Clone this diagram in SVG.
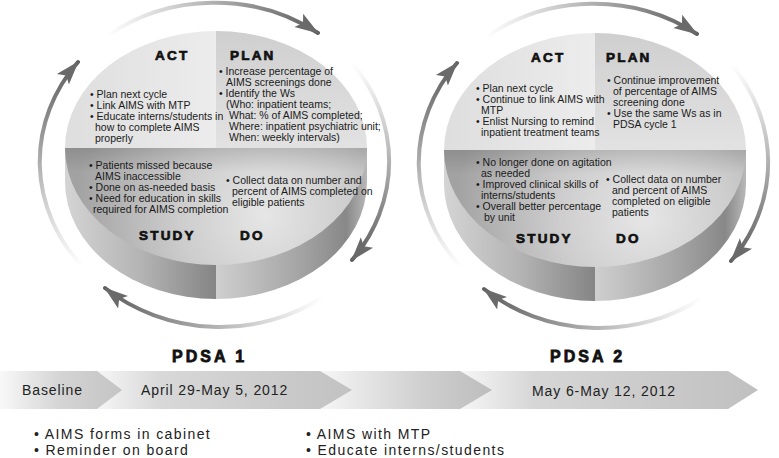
<svg xmlns="http://www.w3.org/2000/svg" width="779" height="458" viewBox="0 0 779 458">
<style>
.t{font-family:"Liberation Sans Narrow","Liberation Sans",Arial,sans-serif;font-size:10.5px;fill:#1a1a1a}
.h{font-family:"Liberation Sans",Arial,sans-serif;font-weight:bold;font-size:13.5px;fill:#111;stroke:#111;stroke-width:0.7;letter-spacing:2.2px}
.p{font-family:"Liberation Sans",Arial,sans-serif;font-weight:bold;font-size:16px;fill:#111;stroke:#111;stroke-width:0.8;letter-spacing:3px}
.tl{font-family:"Liberation Sans",Arial,sans-serif;font-size:14px;fill:#222;letter-spacing:0.9px}
.b{font-family:"Liberation Sans",Arial,sans-serif;font-size:14px;fill:#222;letter-spacing:1.4px}
.arc{fill:none;stroke-width:4;stroke-linecap:round}
</style>
<defs>
<linearGradient id="gTL" gradientUnits="userSpaceOnUse" x1="65" y1="0" x2="216" y2="0"><stop offset="0" stop-color="#dedede"/><stop offset="1" stop-color="#ececec"/></linearGradient>
<linearGradient id="gTR" gradientUnits="userSpaceOnUse" x1="0" y1="31" x2="0" y2="148"><stop offset="0" stop-color="#cfcfcf"/><stop offset="1" stop-color="#e2e2e2"/></linearGradient>
<radialGradient id="gB" gradientUnits="userSpaceOnUse" cx="265" cy="215" r="190"><stop offset="0" stop-color="#e6e6e6"/><stop offset="0.45" stop-color="#cdcdcd"/><stop offset="1" stop-color="#a2a2a2"/></radialGradient>
<linearGradient id="gBs" gradientUnits="userSpaceOnUse" x1="0" y1="148" x2="0" y2="172"><stop offset="0" stop-color="#000" stop-opacity="0.12"/><stop offset="1" stop-color="#000" stop-opacity="0"/></linearGradient>
<linearGradient id="gS" gradientUnits="userSpaceOnUse" x1="65" y1="0" x2="367" y2="0"><stop offset="0" stop-color="#d4d4d4"/><stop offset="0.25" stop-color="#b4b4b4"/><stop offset="0.499" stop-color="#858585"/><stop offset="0.5" stop-color="#cfcfcf"/><stop offset="0.78" stop-color="#a4a4a4"/><stop offset="0.93" stop-color="#888"/><stop offset="1" stop-color="#b8b8b8"/></linearGradient>
<linearGradient id="aT" gradientUnits="userSpaceOnUse" x1="107" y1="36" x2="318" y2="33"><stop offset="0" stop-color="#fff"/><stop offset="0.3" stop-color="#d2d2d2"/><stop offset="1" stop-color="#5e5e5e"/></linearGradient>
<linearGradient id="aR" gradientUnits="userSpaceOnUse" x1="352" y1="63" x2="352" y2="260"><stop offset="0" stop-color="#fff"/><stop offset="0.3" stop-color="#d2d2d2"/><stop offset="1" stop-color="#5e5e5e"/></linearGradient>
<linearGradient id="aB" gradientUnits="userSpaceOnUse" x1="323" y1="297" x2="105" y2="288"><stop offset="0" stop-color="#fff"/><stop offset="0.3" stop-color="#d2d2d2"/><stop offset="1" stop-color="#5e5e5e"/></linearGradient>
<linearGradient id="aL" gradientUnits="userSpaceOnUse" x1="83" y1="267" x2="78" y2="62"><stop offset="0" stop-color="#fff"/><stop offset="0.3" stop-color="#d2d2d2"/><stop offset="1" stop-color="#5e5e5e"/></linearGradient>
<marker id="ah" markerUnits="userSpaceOnUse" markerWidth="24" markerHeight="18" viewBox="0 0 24 18" refX="23" refY="9" orient="auto"><path d="M0,1 L24,9 L0,17 L5,9 Z" fill="#6a6a6a"/></marker>
<linearGradient id="c1" gradientUnits="userSpaceOnUse" x1="0" y1="0" x2="122" y2="0"><stop offset="0" stop-color="#f8f8f8"/><stop offset="0.5" stop-color="#d4d4d4"/><stop offset="1" stop-color="#c4c4c4"/></linearGradient>
<linearGradient id="c2" gradientUnits="userSpaceOnUse" x1="97" y1="0" x2="352" y2="0"><stop offset="0" stop-color="#f6f6f6"/><stop offset="0.25" stop-color="#d8d8d8"/><stop offset="1" stop-color="#c2c2c2"/></linearGradient>
<linearGradient id="c3" gradientUnits="userSpaceOnUse" x1="320" y1="0" x2="492" y2="0"><stop offset="0" stop-color="#f6f6f6"/><stop offset="0.6" stop-color="#cfcfcf"/><stop offset="1" stop-color="#bdbdbd"/></linearGradient>
<linearGradient id="c4" gradientUnits="userSpaceOnUse" x1="460" y1="0" x2="758" y2="0"><stop offset="0" stop-color="#f6f6f6"/><stop offset="0.25" stop-color="#d6d6d6"/><stop offset="1" stop-color="#c0c0c0"/></linearGradient>
<g id="discShape">
<path d="M65,148 L65,182 A151,117 0 0 0 367,182 L367,148 Z" fill="url(#gS)"/>
<path d="M65,148 A151,117 0 0 0 367,148 Z" fill="url(#gB)"/>
<path d="M65,148 A151,117 0 0 0 367,148 Z" fill="url(#gBs)"/>
<path d="M216,148 L65,148 A151,117 0 0 1 216,31 Z" fill="url(#gTL)"/>
<path d="M216,148 L216,31 A151,117 0 0 1 367,148 Z" fill="url(#gTR)"/>
</g>
<g id="arrowSet">
<path class="arc" d="M107,36 A176.5,160.5 0 0 1 318,33" stroke="url(#aT)" marker-end="url(#ah)"/>
<path class="arc" d="M352,63 A176.5,160.5 0 0 1 352,260" stroke="url(#aR)" marker-end="url(#ah)"/>
<path class="arc" d="M323,297 A176.5,160.5 0 0 1 105,288" stroke="url(#aB)" marker-end="url(#ah)"/>
<path class="arc" d="M83,267 A176.5,160.5 0 0 1 78,62" stroke="url(#aL)" marker-end="url(#ah)"/>
</g>
</defs>

<g id="disc1">
<use href="#discShape"/>
<text class="h" x="155" y="60">ACT</text>
<text class="h" x="230" y="60">PLAN</text>
<text class="t" x="90" y="98">• Plan next cycle</text>
<text class="t" x="90" y="109">• Link AIMS with MTP</text>
<text class="t" x="90" y="120">• Educate interns/students in</text>
<text class="t" x="95" y="131">how to complete AIMS</text>
<text class="t" x="95" y="142">properly</text>
<text class="t" x="219" y="75">• Increase percentage of</text>
<text class="t" x="226" y="86">AIMS screenings done</text>
<text class="t" x="219" y="97">• Identify the Ws</text>
<text class="t" x="226" y="108">(Who: inpatient teams;</text>
<text class="t" x="229" y="119">What: % of AIMS completed;</text>
<text class="t" x="229" y="130">Where: inpatient psychiatric unit;</text>
<text class="t" x="229" y="141">When: weekly intervals)</text>
<text class="t" x="89" y="169">• Patients missed because</text>
<text class="t" x="95" y="180">AIMS inaccessible</text>
<text class="t" x="89" y="191">• Done on as-needed basis</text>
<text class="t" x="89" y="202">• Need for education in skills</text>
<text class="t" x="93" y="213">required for AIMS completion</text>
<text class="t" x="226" y="184">• Collect data on number and</text>
<text class="t" x="232" y="195">percent of AIMS completed on</text>
<text class="t" x="232" y="206">eligible patients</text>
<text class="h" x="139" y="240">STUDY</text>
<text class="h" x="240" y="240">DO</text>
</g>

<g id="disc2">
<use href="#discShape" transform="translate(379,2)"/>
<text class="h" x="531" y="62">ACT</text>
<text class="h" x="606" y="62">PLAN</text>
<text class="t" x="476" y="92">• Plan next cycle</text>
<text class="t" x="476" y="103">• Continue to link AIMS with</text>
<text class="t" x="481" y="114">MTP</text>
<text class="t" x="476" y="125">• Enlist Nursing to remind</text>
<text class="t" x="481" y="136">inpatient treatment teams</text>
<text class="t" x="607" y="84">• Continue improvement</text>
<text class="t" x="613" y="95">of percentage of AIMS</text>
<text class="t" x="613" y="106">screening done</text>
<text class="t" x="607" y="117">• Use the same Ws as in</text>
<text class="t" x="613" y="128">PDSA cycle 1</text>
<text class="t" x="476" y="166">• No longer done on agitation</text>
<text class="t" x="481" y="177">as needed</text>
<text class="t" x="476" y="188">• Improved clinical skills of</text>
<text class="t" x="481" y="199">interns/students</text>
<text class="t" x="476" y="210">• Overall better percentage</text>
<text class="t" x="484" y="221">by unit</text>
<text class="t" x="606" y="183">• Collect data on number</text>
<text class="t" x="612" y="194">and percent of AIMS</text>
<text class="t" x="612" y="205">completed on eligible</text>
<text class="t" x="612" y="216">patients</text>
<text class="h" x="516" y="243">STUDY</text>
<text class="h" x="616" y="243">DO</text>
</g>

<g id="connectors">
<use href="#arrowSet"/>
<use href="#arrowSet" transform="translate(379,1)"/>
</g>

<g id="timeline">
<path d="M460,371 L728,371 L758,390 L728,409 L460,409 Z" fill="url(#c4)"/>
<path d="M320,371 L460,371 L492,390 L460,409 L320,409 Z" fill="url(#c3)"/>
<path d="M97,371 L320,371 L352,390 L320,409 L97,409 Z" fill="url(#c2)"/>
<path d="M0,371 L97,371 L122,390 L97,409 L0,409 Z" fill="url(#c1)"/>
<text class="tl" x="22" y="395">Baseline</text>
<text class="tl" x="141" y="395">April 29-May 5, 2012</text>
<text class="tl" x="532" y="396">May 6-May 12, 2012</text>
</g>

<g id="labels">
<text class="p" x="172" y="362">PDSA 1</text>
<text class="p" x="550" y="362">PDSA 2</text>
<text class="b" x="34" y="438.5">• AIMS forms in cabinet</text>
<text class="b" x="34" y="455">• Reminder on board</text>
<text class="b" x="306" y="438.5">• AIMS with MTP</text>
<text class="b" x="306" y="455">• Educate interns/students</text>
</g>
</svg>
